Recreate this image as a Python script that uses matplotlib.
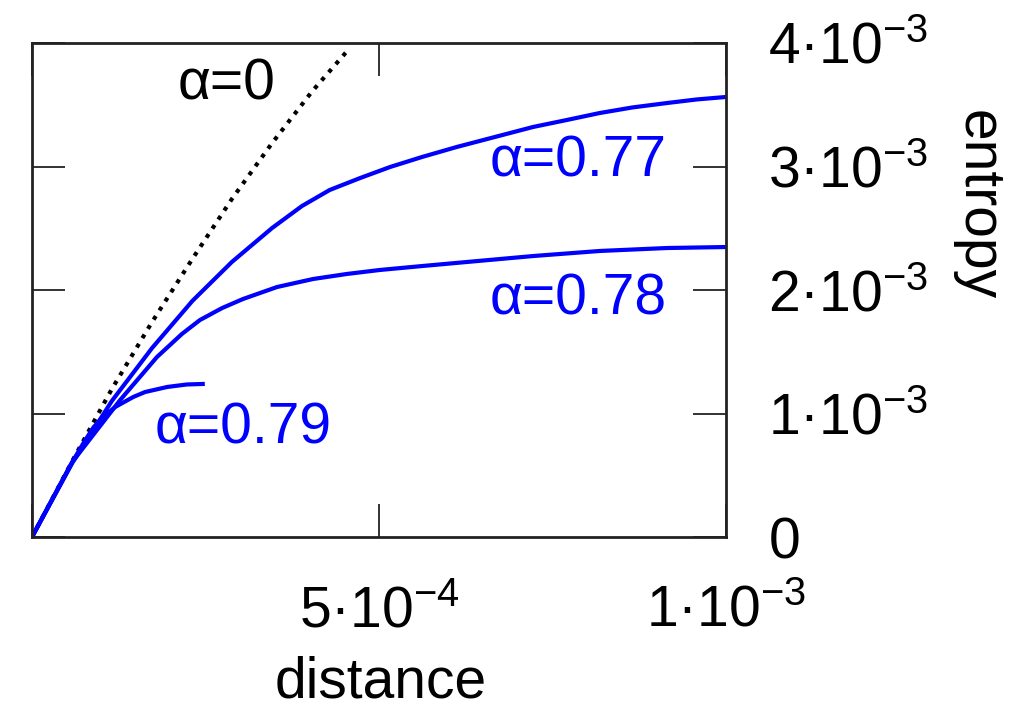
import matplotlib
matplotlib.use('Agg')
import matplotlib.pyplot as plt

plt.rcParams['font.family'] = ['Liberation Sans', 'DejaVu Sans']
plt.rcParams['mathtext.fontset'] = 'custom'
plt.rcParams['mathtext.rm'] = 'Liberation Sans'
plt.rcParams['mathtext.it'] = 'Liberation Sans:italic'
plt.rcParams['mathtext.bf'] = 'Liberation Sans:bold'

BLUE = '#0000ff'
FS = 41

# all values in units of 1e-3 (distance, entropy)

# alpha = 0 (dotted)
x_a0 = [0.0, 0.058, 0.115, 0.173, 0.231, 0.288, 0.346, 0.404, 0.458]
y_a0 = [0.0, 0.615, 1.198, 1.741, 2.251, 2.737, 3.190, 3.611, 3.960]

# alpha = 0.77
x_77 = [0.0, 0.058, 0.115, 0.173, 0.231, 0.288, 0.346, 0.389, 0.429, 0.473,
        0.516, 0.562, 0.612, 0.667, 0.722, 0.771, 0.818, 0.865, 0.915, 0.958, 1.0]
y_77 = [0.0, 0.599, 1.101, 1.530, 1.911, 2.227, 2.502, 2.680, 2.810, 2.907,
        2.996, 3.077, 3.158, 3.239, 3.320, 3.377, 3.433, 3.478, 3.514, 3.543, 3.563]

# alpha = 0.78
x_78 = [0.0, 0.058, 0.127, 0.180, 0.216, 0.242, 0.274, 0.304, 0.353, 0.405,
        0.454, 0.501, 0.562, 0.627, 0.722, 0.818, 0.915, 1.0]
y_78 = [0.0, 0.607, 1.109, 1.457, 1.644, 1.757, 1.854, 1.927, 2.024, 2.089,
        2.130, 2.162, 2.194, 2.227, 2.275, 2.316, 2.340, 2.348]

# alpha = 0.79
x_79 = [0.0, 0.058, 0.075, 0.089, 0.104, 0.120, 0.146, 0.163, 0.195, 0.223, 0.246]
y_79 = [0.0, 0.607, 0.769, 0.891, 0.980, 1.053, 1.134, 1.174, 1.215, 1.235, 1.239]

x_ticks = [0.0, 0.5, 1.0]
x_ticklabels = ['', '$5·10^{-4}$', '$1·10^{-3}$']
y_ticks = [0.0, 1.0, 2.0, 3.0, 4.0]
y_ticklabels = ['$0$', '$1·10^{-3}$', '$2·10^{-3}$', '$3·10^{-3}$', '$4·10^{-3}$']

fig = plt.figure(figsize=(10.15, 7.09), dpi=100)
ax = fig.add_axes([32 / 1015, 1 - 537 / 709, 694 / 1015, 494 / 709])

ax.plot(x_a0, y_a0, color='black', lw=3, linestyle=(0, (1, 1.6)))
for xs, ys in [(x_77, y_77), (x_78, y_78), (x_79, y_79)]:
    ax.plot(xs, ys, color=BLUE, lw=3, solid_joinstyle='round')

ax.text(0.281, 3.66, 'α=0', fontsize=FS, color='black', ha='center', va='center')
ax.text(0.787, 3.04, 'α=0.77', fontsize=FS, color=BLUE, ha='center', va='center')
ax.text(0.787, 1.92, 'α=0.78', fontsize=FS, color=BLUE, ha='center', va='center')
ax.text(0.305, 0.88, 'α=0.79', fontsize=FS, color=BLUE, ha='center', va='center')

ax.set_xlim(0, 1)
ax.set_ylim(0, 4)
ax.set_xticks(x_ticks)
ax.set_xticklabels(x_ticklabels)
ax.set_yticks(y_ticks)
ax.set_yticklabels(y_ticklabels)

ax.tick_params(axis='x', direction='in', top=True, bottom=True, length=24,
               width=1.4, color='#333333', labelsize=FS, pad=34)
ax.tick_params(axis='y', direction='in', left=True, right=True, labelleft=False,
               labelright=True, length=24, width=1.4, color='#333333',
               labelsize=FS, pad=30)
for sp in ax.spines.values():
    sp.set_linewidth(2)
    sp.set_color('#222222')

fig.text(381 / 1015, 1 - 698 / 709, 'distance', fontsize=FS, ha='center', va='baseline')
fig.text(978 / 1015, 1 - 205 / 709, 'entropy', fontsize=FS, rotation=270,
         ha='center', va='center')

fig.savefig('out.png', dpi=100, facecolor='white')
